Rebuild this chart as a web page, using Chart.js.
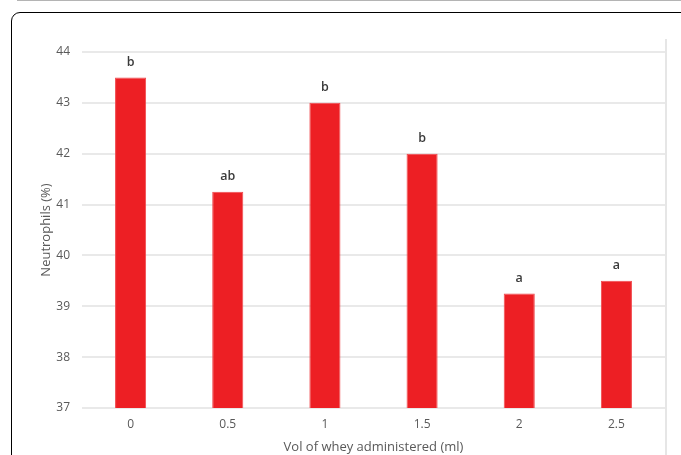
<!DOCTYPE html>
<html>
<head>
<meta charset="utf-8">
<script src="https://cdn.jsdelivr.net/npm/chart.js@4/dist/chart.umd.min.js"></script>
<style>
  html, body { margin: 0; padding: 0; background: #fff; overflow: hidden; }
  #wrap { position: relative; width: 681px; height: 455px; }
  #topline { position: absolute; left: 17px; top: 0; width: 664px; height: 1px; background: #b4b4b4; }
  #frame { position: absolute; left: 11px; top: 12px; width: 720px; height: 520px; border: 1.5px solid #000; border-radius: 9px; box-sizing: border-box; }
  #rline { position: absolute; left: 665px; top: 39px; width: 2px; height: 420px; background: #e6e6e6; }
  canvas { position: absolute; left: 0; top: 0; }
</style>
</head>
<body>
<div id="wrap">
  <div id="topline"></div>
  <div id="frame"></div>
  <div id="rline"></div>
  <canvas id="c" width="681" height="455"></canvas>
</div>
<script>
const categories = ['0', '0.5', '1', '1.5', '2', '2.5'];
const neutrophils = [43.5, 41.25, 43, 42, 39.25, 39.5];
const significance = ['b', 'ab', 'b', 'b', 'a', 'a'];
const yTicks = [37, 38, 39, 40, 41, 42, 43, 44];
const xTitle = 'Vol of whey administered (ml)';
const yTitle = 'Neutrophils (%)';

const FONT = "'Open Sans', 'Liberation Sans', sans-serif";

const letterPlugin = {
  id: 'letters',
  afterDatasetsDraw(chart) {
    const ctx = chart.ctx;
    const meta = chart.getDatasetMeta(0);
    ctx.save();
    ctx.fillStyle = '#3a3a3a';
    ctx.font = '600 12.5px ' + FONT;
    ctx.textAlign = 'center';
    ctx.textBaseline = 'middle';
    meta.data.forEach((bar, i) => {
      ctx.fillText(significance[i], bar.x, bar.y - 15);
    });
    ctx.restore();
  }
};

new Chart(document.getElementById('c'), {
  type: 'bar',
  data: {
    labels: categories,
    datasets: [{
      data: neutrophils,
      backgroundColor: '#ed1f24',
      borderColor: '#f04a4e',
      borderWidth: 1,
      barPercentage: 0.32,
      categoryPercentage: 1
    }]
  },
  options: {
    responsive: false,
    animation: false,
    devicePixelRatio: 1,
    layout: { padding: { left: 34, right: 16, top: 52, bottom: 0 } },
    plugins: { legend: { display: false }, tooltip: { enabled: false } },
    scales: {
      x: {
        grid: { display: false, drawTicks: false },
        border: { display: false },
        ticks: { color: '#595959', font: { family: FONT, size: 12 }, padding: 9 },
        title: { display: true, text: xTitle, color: '#595959', font: { family: FONT, size: 13 }, padding: { top: 2, bottom: 0 } },
        afterFit(scale) { scale.height = 47; }
      },
      y: {
        min: 37, max: 44,
        afterBuildTicks(scale) { scale.ticks = yTicks.map(v => ({ value: v })); },
        grid: { color: '#e9e9e9', lineWidth: 2, drawTicks: false },
        border: { display: false },
        ticks: { color: '#595959', font: { family: FONT, size: 12 }, padding: 12 },
        title: { display: true, text: yTitle, color: '#595959', font: { family: FONT, size: 13 }, padding: { top: 4, bottom: 4 } },
        afterFit(scale) { scale.width = 48; }
      }
    }
  },
  plugins: [letterPlugin]
});
</script>
</body>
</html>
